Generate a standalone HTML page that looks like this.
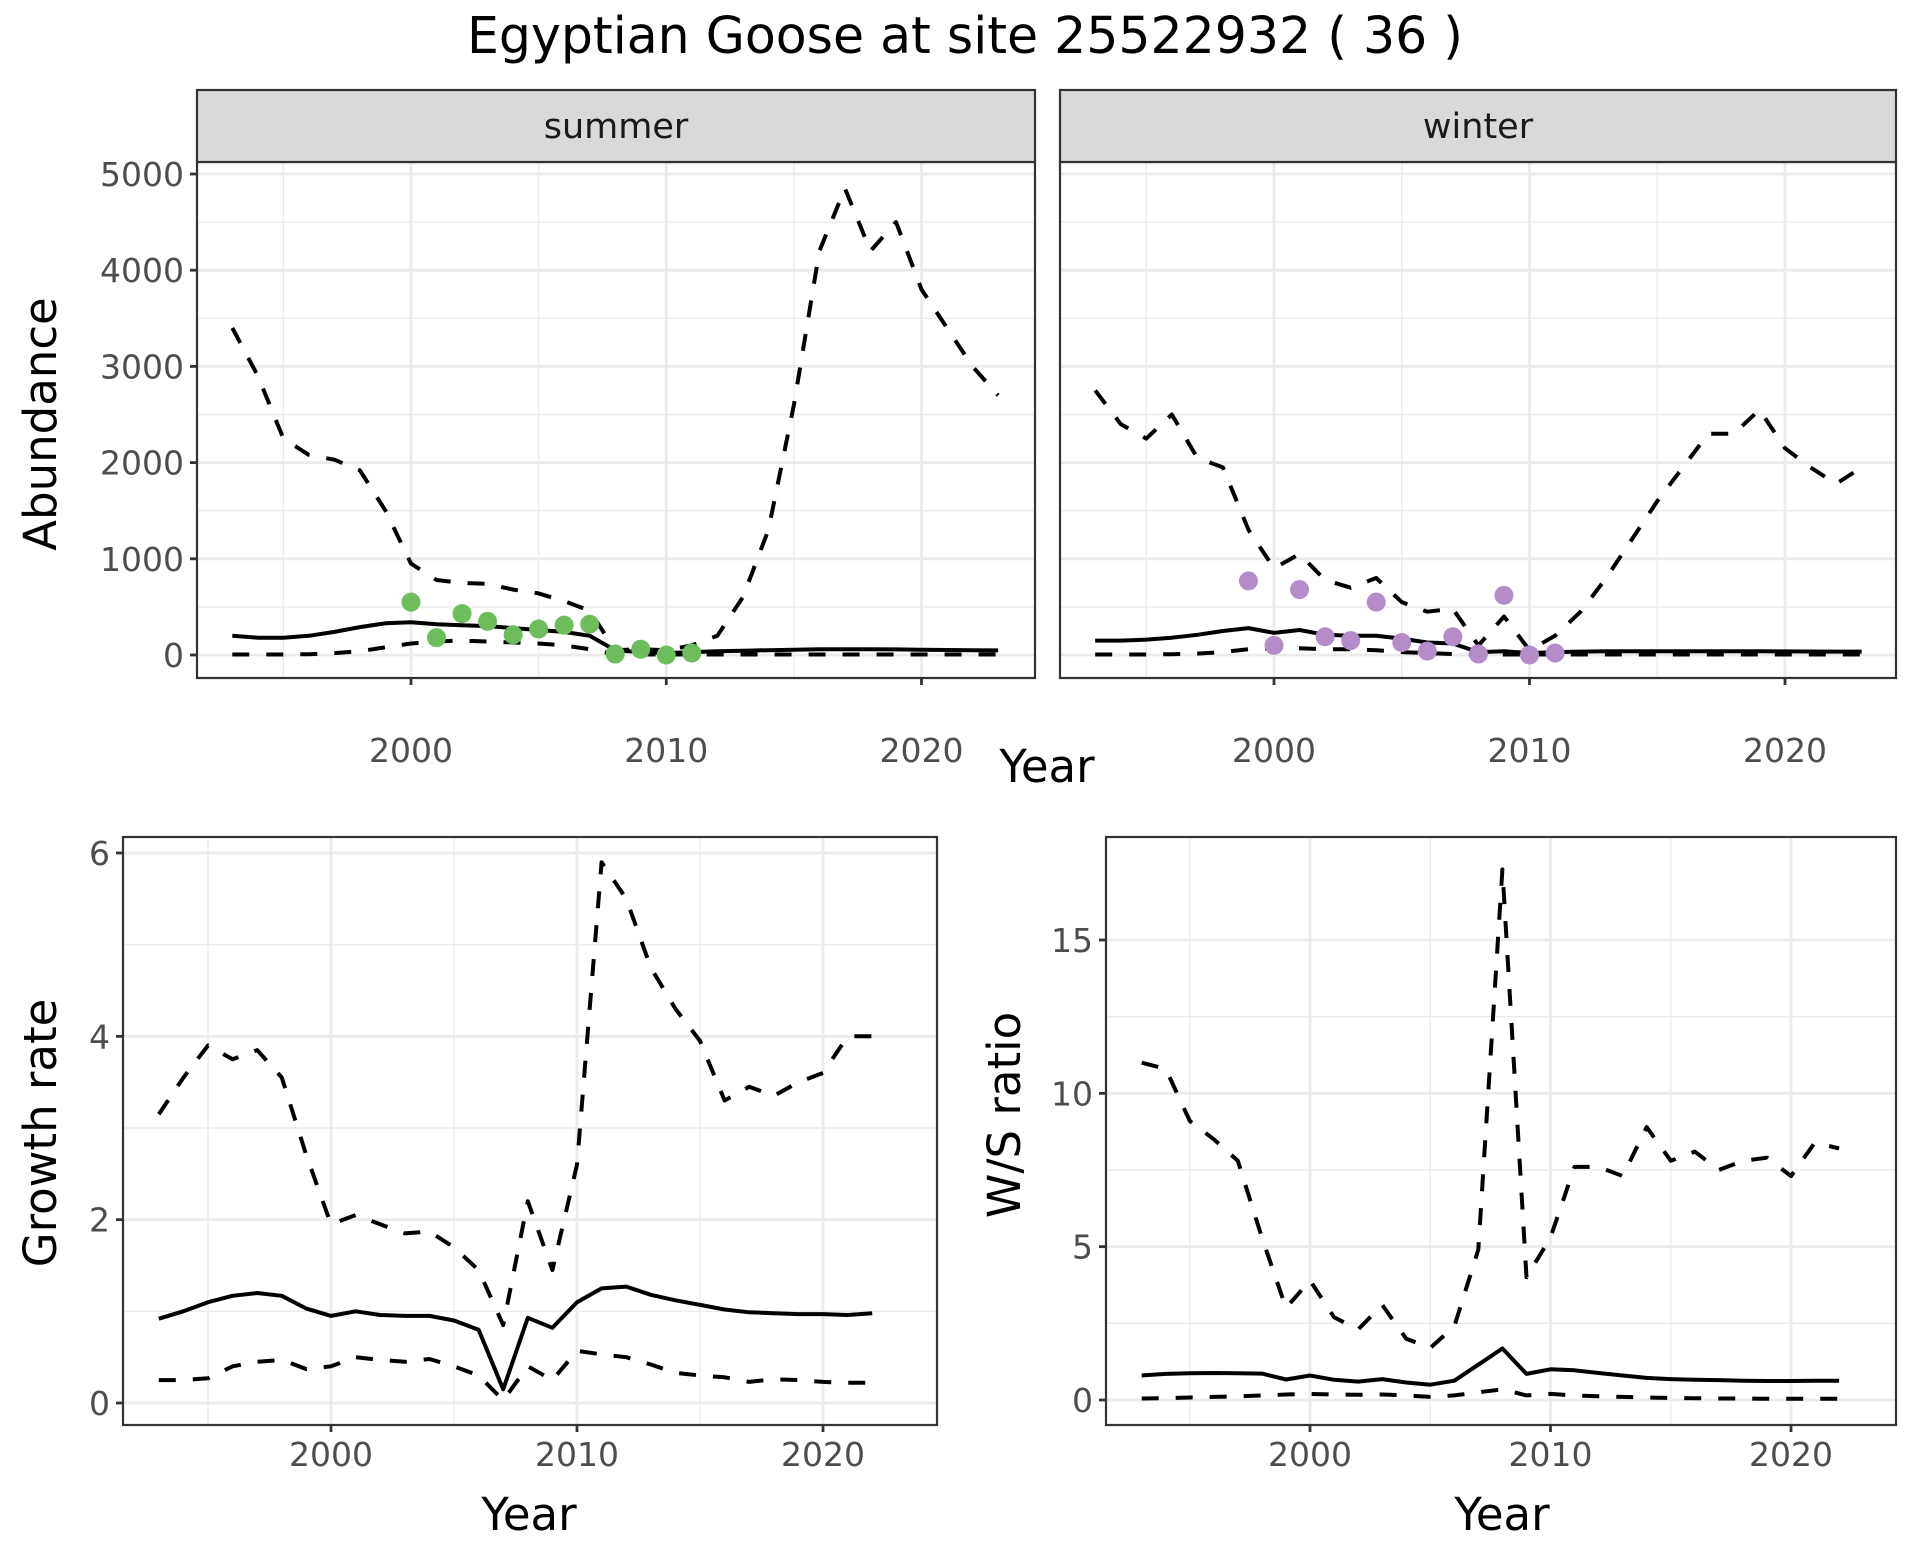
<!DOCTYPE html>
<html><head><meta charset="utf-8"><style>
html,body{margin:0;padding:0;background:#fff;}
svg{display:block;font-family:"DejaVu Sans","Liberation Sans",sans-serif;}
</style></head><body>
<svg id="chart" width="1920" height="1560" viewBox="0 0 1920 1560" xmlns="http://www.w3.org/2000/svg">
<text x="965" y="53" font-size="50.5" text-anchor="middle" fill="#000">Egyptian Goose at site 25522932 ( 36 )</text>
</svg>
<script>
const yearsA = [1993,1994,1995,1996,1997,1998,1999,2000,2001,2002,2003,2004,2005,2006,2007,2008,2009,2010,2011,2012,2013,2014,2015,2016,2017,2018,2019,2020,2021,2022,2023];
const summerUpper = [3400,2900,2250,2080,2030,1920,1500,950,780,750,740,680,640,560,460,50,60,50,100,200,600,1300,2600,4200,4850,4200,4500,3800,3400,3000,2700];
const summerMid = [200,180,180,200,240,290,330,340,320,310,300,280,260,240,200,50,30,20,30,40,45,50,55,60,60,60,58,55,52,50,48];
const summerLower = [5,5,5,8,20,40,80,120,140,150,140,130,120,100,60,5,5,5,5,5,5,5,5,5,5,5,5,5,5,5,5];
const summerPtYears = [2000,2001,2002,2003,2004,2005,2006,2007,2008,2009,2010,2011];
const summerPts = [550,180,430,350,210,270,310,320,10,60,0,20];
const winterUpper = [2750,2400,2250,2500,2050,1950,1300,900,1050,780,700,800,550,450,480,100,400,50,200,450,800,1200,1600,1950,2300,2300,2550,2150,1950,1780,1950];
const winterMid = [150,150,160,180,210,250,280,230,260,210,200,200,170,130,120,30,40,20,30,35,40,40,40,40,40,40,38,37,36,35,35];
const winterLower = [5,5,5,8,15,30,60,70,70,60,60,50,30,20,10,5,5,5,5,5,5,5,5,5,5,5,5,5,5,5,5];
const winterPtYears = [1999,2000,2001,2002,2003,2004,2005,2006,2007,2008,2009,2010,2011];
const winterPts = [770,100,680,190,150,550,130,40,190,10,620,0,20];
const yearsB = [1993,1994,1995,1996,1997,1998,1999,2000,2001,2002,2003,2004,2005,2006,2007,2008,2009,2010,2011,2012,2013,2014,2015,2016,2017,2018,2019,2020,2021,2022];
const growthUpper = [3.15,3.55,3.9,3.75,3.85,3.55,2.7,1.95,2.05,1.95,1.85,1.87,1.7,1.45,0.85,2.2,1.45,2.6,5.9,5.5,4.75,4.3,3.95,3.3,3.45,3.35,3.5,3.6,4.0,4.0];
const growthMid = [0.92,1.0,1.1,1.17,1.2,1.17,1.03,0.95,1.0,0.96,0.95,0.95,0.9,0.8,0.15,0.93,0.82,1.1,1.25,1.27,1.18,1.12,1.07,1.02,0.99,0.98,0.97,0.97,0.96,0.98];
const growthLower = [0.25,0.25,0.27,0.4,0.45,0.47,0.37,0.4,0.5,0.47,0.45,0.48,0.4,0.3,0.03,0.4,0.25,0.57,0.53,0.5,0.42,0.33,0.3,0.28,0.23,0.26,0.25,0.23,0.22,0.22];
const ratioUpper = [11.0,10.8,9.1,8.5,7.8,5.3,3.0,3.9,2.7,2.3,3.1,2.0,1.7,2.4,4.9,17.3,4.0,5.3,7.6,7.6,7.3,8.9,7.8,8.1,7.5,7.8,7.9,7.3,8.4,8.2];
const ratioMid = [0.8,0.85,0.87,0.88,0.87,0.86,0.67,0.8,0.66,0.6,0.68,0.57,0.5,0.63,1.15,1.68,0.85,1.0,0.97,0.88,0.8,0.72,0.68,0.66,0.65,0.63,0.62,0.62,0.63,0.63];
const ratioLower = [0.05,0.06,0.08,0.1,0.12,0.15,0.18,0.2,0.18,0.17,0.18,0.15,0.1,0.15,0.25,0.35,0.15,0.2,0.15,0.12,0.1,0.08,0.07,0.06,0.05,0.05,0.04,0.04,0.04,0.04];
const abundTicks = [0,1000,2000,3000,4000,5000];
const abundMinor = [500,1500,2500,3500,4500];
const yearTicks = [2000,2010,2020];
const yearMinor = [1995,2005,2015];
const growthTicks = [0,2,4,6];
const growthMinor = [1,3,5];
const ratioTicks = [0,5,10,15];
const ratioMinor = [2.5,7.5,12.5];

const svg = document.getElementById('chart');
const NS = 'http://www.w3.org/2000/svg';
function mk(tag, attrs, parent){ const e=document.createElementNS(NS,tag); for(const k in attrs) e.setAttribute(k,attrs[k]); (parent||svg).appendChild(e); return e; }
function lin(d0,d1,r0,r1){ return v => r0 + (v-d0)*(r1-r0)/(d1-d0); }

function panel(p){
  const g = mk('g',{});
  
  
  const X = lin(p.xd[0],p.xd[1],p.xr[0],p.xr[1]);
  const Y = lin(p.yd[0],p.yd[1],p.yr[0],p.yr[1]);
  p.yMinor.forEach(v=>{ mk('line',{x1:p.L,x2:p.R,y1:Y(v),y2:Y(v),stroke:'#ebebeb','stroke-width':1.4},g); });
  p.xMinor.forEach(v=>{ mk('line',{x1:X(v),x2:X(v),y1:p.T,y2:p.B,stroke:'#ebebeb','stroke-width':1.4},g); });
  p.yTicks.forEach(v=>{ mk('line',{x1:p.L,x2:p.R,y1:Y(v),y2:Y(v),stroke:'#ebebeb','stroke-width':2.8},g); });
  yearTicks.forEach(v=>{ mk('line',{x1:X(v),x2:X(v),y1:p.T,y2:p.B,stroke:'#ebebeb','stroke-width':2.8},g); });
  function path(xs,ys,dash,nm){
    const d = xs.map((x,i)=>(i?'L':'M')+X(x).toFixed(1)+' '+Y(ys[i]).toFixed(1)).join(' ');
    const e = mk('path',{d:d,fill:'none',stroke:'#000','stroke-width':4,'stroke-linejoin':'round','stroke-dasharray':dash?'17 17':'none'},g);
    
    
  }
  path(p.xs,p.lower,true,'lower-bound-line');
  path(p.xs,p.upper,true,'upper-bound-line');
  path(p.xs,p.mid,false,'estimate-line');
  if(p.pts){
    p.ptYears.forEach((yr,i)=>{
      const c = mk('circle',{cx:X(yr),cy:Y(p.pts[i]),r:9.5,fill:p.ptColor},g);
      
      
    });
  }
  mk('rect',{x:p.L,y:p.T,width:p.R-p.L,height:p.B-p.T,fill:'none',stroke:'#333','stroke-width':2.2},g);
  if(p.yLabels){
    p.yTicks.forEach(v=>{
      mk('line',{x1:p.L-7,x2:p.L,y1:Y(v),y2:Y(v),stroke:'#333','stroke-width':2.8},g);
      const t = mk('text',{x:p.L-13,y:Y(v)+12,'font-size':33,'text-anchor':'end',fill:'#4d4d4d'},g);
      t.textContent = v;
      
      
    });
  }
  yearTicks.forEach(v=>{
    mk('line',{x1:X(v),x2:X(v),y1:p.B,y2:p.B+7,stroke:'#333','stroke-width':2.8},g);
    const t = mk('text',{x:X(v),y:p.tickY,'font-size':33,'text-anchor':'middle',fill:'#4d4d4d'},g);
    t.textContent = v;
    
    
  });
  if(p.strip){
    mk('rect',{x:p.L,y:90,width:p.R-p.L,height:72,fill:'#d9d9d9',stroke:'#333','stroke-width':2.2},g);
    const t = mk('text',{x:(p.L+p.R)/2,y:138,'font-size':35,'text-anchor':'middle',fill:'#1a1a1a'},g);
    t.textContent = p.strip;
    
    
  }
}
panel({name:'summer-panel',L:197,R:1035,T:162,B:678,xd:[2000,2020],xr:[411,921.5],yd:[0,5000],yr:[655,174],
  yTicks:abundTicks,yMinor:abundMinor,xMinor:yearMinor,xs:yearsA,upper:summerUpper,mid:summerMid,lower:summerLower,
  pts:summerPts,ptYears:summerPtYears,ptColor:'#6dbd5c',yLabels:true,tickY:762,strip:'summer'});
panel({name:'winter-panel',L:1060,R:1896,T:162,B:678,xd:[2000,2020],xr:[1274,1785],yd:[0,5000],yr:[655,174],
  yTicks:abundTicks,yMinor:abundMinor,xMinor:yearMinor,xs:yearsA,upper:winterUpper,mid:winterMid,lower:winterLower,
  pts:winterPts,ptYears:winterPtYears,ptColor:'#b48cc8',yLabels:false,tickY:762,strip:'winter'});
panel({name:'growth-panel',L:123,R:937,T:837,B:1425,xd:[2000,2020],xr:[331,823],yd:[0,6],yr:[1403,853],
  yTicks:growthTicks,yMinor:growthMinor,xMinor:yearMinor,xs:yearsB,upper:growthUpper,mid:growthMid,lower:growthLower,
  yLabels:true,tickY:1466});
panel({name:'ratio-panel',L:1106,R:1896,T:837,B:1425,xd:[2000,2020],xr:[1310,1791],yd:[0,15],yr:[1400,940],
  yTicks:ratioTicks,yMinor:ratioMinor,xMinor:yearMinor,xs:yearsB,upper:ratioUpper,mid:ratioMid,lower:ratioLower,
  yLabels:true,tickY:1466});

function label(txt,x,y,rot,nm){
  const t = mk('text',{x:x,y:y,'font-size':45,'text-anchor':'middle',fill:'#000',transform:rot?`rotate(-90 ${x} ${y})`:''});
  t.textContent = txt;
  
  
}
label('Year',1047,782,false,'x-axis-title-top');
label('Year',529,1530,false,'x-axis-title-growth');
label('Year',1502,1530,false,'x-axis-title-ratio');
label('Abundance',56,424,true,'y-axis-title-abundance');
label('Growth rate',56,1133,true,'y-axis-title-growth');
label('W/S ratio',1020,1115,true,'y-axis-title-ratio');
</script>
</body></html>
